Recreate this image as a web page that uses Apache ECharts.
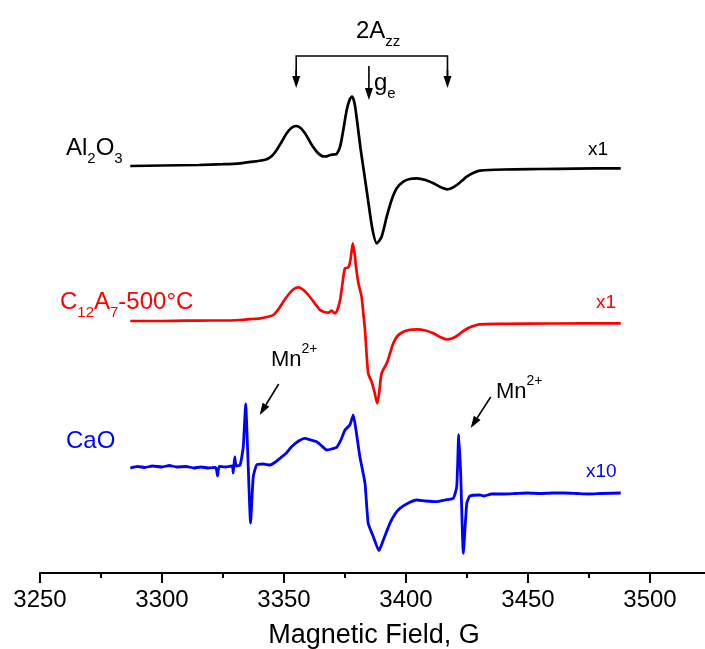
<!DOCTYPE html>
<html>
<head>
<meta charset="utf-8">
<script src="https://cdn.jsdelivr.net/npm/echarts@6/dist/echarts.min.js"></script>
<style>
  html, body { margin: 0; padding: 0; background: #fff; }
  #chart { width: 705px; height: 649px; }
</style>
</head>
<body>
<div id="chart"></div>
<script>
// magnetic field axis (G)
const fieldMin = 3250;
const fieldStep = 50;

// EPR signal, a.u., relative to each trace's own baseline: [field G, signal]
const al2o3 = [
  [3287, 0], [3300, 0.5], [3315, 1], [3325, 1.8], [3332, 2.7], [3337.4, 4.3], [3340.5, 5.5],
  [3342.9, 6.7], [3345, 10], [3347, 16], [3349, 24], [3351.1, 32.7], [3353, 38], [3354.9, 40],
  [3356.8, 38], [3358.6, 32.7], [3360, 27], [3361.4, 21], [3363.5, 14], [3365.5, 10], [3367, 9.5],
  [3368.9, 11], [3370.5, 11.5], [3371.6, 12], [3373, 19.3], [3374.3, 36], [3375.7, 56], [3377, 67],
  [3377.9, 69.3], [3378.9, 63], [3379.8, 48], [3381.4, 17], [3383.2, -13], [3384.5, -35],
  [3386.3, -64], [3388, -77.3], [3390, -70.7], [3392.1, -50.7], [3394.1, -34], [3396.2, -22.3],
  [3398.9, -15.7], [3401.5, -13], [3404.4, -12.3], [3408, -14], [3411.2, -17.3], [3414, -21],
  [3416.9, -23.3], [3418.8, -22], [3420.8, -19], [3422.8, -15], [3424.9, -10.7], [3427.5, -7],
  [3430.3, -4.7], [3440, -3.5], [3455, -3], [3470, -2.6], [3488, -2.3]
];

const c12a7 = [
  [3287, 0], [3300, 0], [3310, 0.3], [3320, 0.5], [3325, 0.5], [3332, 1], [3336, 1.8],
  [3340.2, 2.7], [3343, 4], [3345.6, 6], [3347.8, 12], [3349.7, 19.3], [3352, 27], [3354, 32],
  [3355.9, 33.7], [3358, 31], [3360, 26], [3362.5, 18], [3364.8, 11], [3366.5, 9], [3368.2, 8.3],
  [3369.5, 10.3], [3370.9, 7.7], [3372, 12], [3373, 21], [3374, 38], [3375, 52.7], [3376.4, 53.7],
  [3377.3, 62], [3378.2, 77.7], [3379, 66], [3379.5, 54.3], [3380.5, 37.7], [3381.8, 24.3],
  [3382.5, 8], [3383.2, -9], [3384.5, -52.3], [3385.9, -60.7], [3387, -70], [3388.2, -82.3],
  [3389, -72], [3390, -52.3], [3392.1, -42.3], [3393.5, -32], [3394.8, -22.3], [3396.5, -15],
  [3398.9, -10.7], [3401.5, -8.8], [3404.4, -8.3], [3408, -9.5], [3411.2, -12.3], [3414, -16],
  [3416.7, -18.3], [3418.8, -17.5], [3420.8, -15], [3423.5, -10], [3426.2, -6.3], [3430.3, -3.3],
  [3440, -2.8], [3460, -2.5], [3488, -2.3]
];

const cao = [
  [3287, -1], [3290, 0.5], [3293, -0.5], [3296, 1], [3300, 0], [3303, 1.5], [3306, 0], [3310, 0.5],
  [3313, -1], [3316, 0], [3319, -1], [3322, -0.5], [3322.8, -9], [3323.4, 0.5], [3326, 0],
  [3328.8, 1], [3329.2, -6], [3329.8, 10], [3330.4, 1], [3332, 2], [3333.3, 20], [3334.3, 63],
  [3335.2, 10], [3336.3, -56], [3337.4, -9.7], [3338.8, 2], [3341.5, 3], [3344.3, 2], [3346.5, 5],
  [3348.4, 8.7], [3351, 14], [3353.1, 20.3], [3356, 26], [3358.6, 28.7], [3361, 27], [3363.4, 25.3],
  [3365.5, 21], [3367.5, 17], [3369.5, 18], [3371.6, 19.7], [3373.5, 28], [3375, 37], [3377, 42],
  [3378.4, 52], [3379.5, 37], [3381.1, 10.3], [3383.2, -16.3], [3384.5, -56.3], [3386.6, -69.7],
  [3388.9, -83.7], [3390.7, -73], [3393.4, -56.3], [3395.5, -47], [3397.5, -41.3], [3401, -36],
  [3404.4, -33], [3408, -34], [3412.6, -34.7], [3416, -33], [3419.4, -31.3], [3420.8, -19.7],
  [3421.6, 32.7], [3422.4, -6.3], [3423.5, -86.3], [3424.9, -36.3], [3426.2, -29], [3430.3, -28],
  [3432, -29], [3435, -27], [3440, -27], [3445, -26.5], [3450, -26], [3455, -26.5], [3460, -26],
  [3465, -26], [3470, -26.5], [3475, -27], [3480, -26.5], [3488, -26]
];

const gains = ['x1', 'x1', 'x10'];
const azzFields = [3355, 3417];
const geField = 3384.8;
const mnFields = [3334.3, 3421.6];

const font = '"Liberation Sans", Arial, sans-serif';
const colors = ['#000000', '#ff0000', '#0000ff'];
// vertical stacking of the three traces (pixels above the axis line)
const offsets = [407, 252, 106];

const chart = echarts.init(document.getElementById('chart'));

const shift = (arr, off) => arr.map(([g, v]) => [g, v + off]);

chart.setOption({
  animation: false,
  // axis runs past the right edge of the picture, as in the original plot
  grid: { left: 40, top: 0, bottom: 76, width: 732, outerBoundsMode: 'none', containLabel: false },
  xAxis: {
    type: 'value',
    min: fieldMin,
    max: 3550,
    interval: fieldStep,
    name: 'Magnetic Field, G',
    nameLocation: 'middle',
    nameGap: 49,
    nameTextStyle: { fontFamily: font, fontSize: 27, color: '#000', padding: [0, 64, 0, 0] },
    axisLine: { lineStyle: { color: '#000', width: 2 } },
    axisTick: { length: 10, lineStyle: { color: '#000', width: 2 } },
    minorTick: { show: true, splitNumber: 2, length: 5, lineStyle: { color: '#000', width: 2 } },
    axisLabel: {
      fontFamily: font, fontSize: 24, color: '#000', margin: 15,
      formatter: v => (v <= 3500 ? String(v) : '')
    },
    splitLine: { show: false }
  },
  yAxis: { type: 'value', min: 0, max: 573, show: false },
  series: [al2o3, c12a7, cao].map((d, i) => ({
    type: 'line',
    data: shift(d, offsets[i]),
    showSymbol: false,
    smooth: i === 2 ? 0.15 : 0.25,
    lineStyle: { color: colors[i], width: i === 2 ? 2.8 : 2.7 },
    z: 3 - i
  }))
});

const px = g => chart.convertToPixel({ xAxisIndex: 0 }, g);

function arrow(x1, y1, x2, y2, color) {
  const a = Math.atan2(y2 - y1, x2 - x1);
  const len = 12, half = 4;
  const bx = x2 - len * Math.cos(a), by = y2 - len * Math.sin(a);
  const nx = -Math.sin(a) * half, ny = Math.cos(a) * half;
  return [
    { type: 'line', shape: { x1, y1, x2: bx, y2: by }, style: { stroke: color, lineWidth: 1.6 } },
    { type: 'polygon', shape: { points: [[x2, y2], [bx + nx, by + ny], [bx - nx, by - ny]] },
      style: { fill: color } }
  ];
}

function label(x, y, text, color, size, rich) {
  return {
    type: 'text', x, y,
    style: {
      text, fill: color, font: size + 'px ' + font, verticalAlign: 'middle',
      rich: rich || {}
    }
  };
}

function subRich(color, size, sub) {
  return {
    m: { fontSize: size, fontFamily: font, fill: color, lineHeight: 36 },
    s: { fontSize: sub, fontFamily: font, fill: color, lineHeight: sub, verticalAlign: 'bottom' },
    p: { fontSize: sub, fontFamily: font, fill: color, lineHeight: sub, verticalAlign: 'top' }
  };
}

const xa = px(azzFields[0]), xb = px(azzFields[1]), xg = px(geField);
const graphics = [
  { type: 'polyline', shape: { points: [[xa, 76], [xa, 56], [xb, 56], [xb, 76]] },
    style: { stroke: '#000', lineWidth: 1.6, fill: null } },
  ...arrow(xa, 70, xa, 88, '#000'),
  ...arrow(xb, 70, xb, 88, '#000'),
  ...arrow(xg, 66, xg, 100, '#000'),
  label(356, 31, '{m|2A}{s|zz}', '#000', 22, subRich('#000', 24, 15)),
  label(xg + 5, 83, '{m|g}{s|e}', '#000', 22, subRich('#000', 24, 15)),
  label(66, 148, '{m|Al}{s|2}{m|O}{s|3}', '#000', 24, subRich('#000', 24, 15)),
  label(60, 302, '{m|C}{s|12}{m|A}{s|7}{m|-500°C}', colors[1], 24, subRich(colors[1], 24, 15)),
  label(66, 441, 'CaO', colors[2], 24),
  label(588, 150, gains[0], colors[0], 19),
  label(596, 303, gains[1], colors[1], 19),
  label(586, 472, gains[2], colors[2], 19),
  label(271, 360, '{m|Mn}{p|2+}', '#000', 22, subRich('#000', 22, 14)),
  label(496, 392, '{m|Mn}{p|2+}', '#000', 22, subRich('#000', 22, 14)),
  ...arrow(px(mnFields[0]) + 33, 384, px(mnFields[0]) + 14, 415, '#000'),
  ...arrow(px(mnFields[1]) + 32, 397, px(mnFields[1]) + 12, 428, '#000')
];

chart.setOption({ graphic: graphics });
</script>
</body>
</html>
